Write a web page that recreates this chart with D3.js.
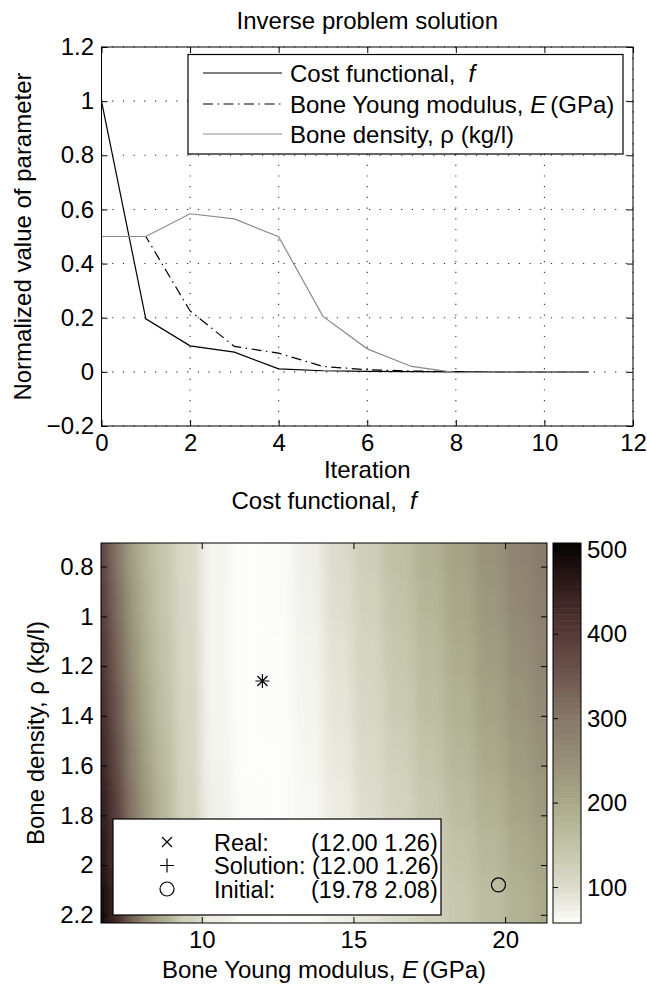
<!DOCTYPE html>
<html>
<head>
<meta charset="utf-8">
<script src="https://cdn.jsdelivr.net/npm/d3@7"></script>
<style>
  body { margin: 0; background: #fff; }
  text { font-family: "Liberation Sans", Arial, sans-serif; }
</style>
</head>
<body>
<script>
// ---- top chart data (iterations of the inverse problem) ----
var iterations = [0, 1, 2, 3, 4, 5, 6, 7, 8, 9, 10, 11];
var costF    = [1, 0.196, 0.096, 0.073, 0.011, 0.004, 0.002, 0.001, 0, 0, 0, 0];
var youngE   = [0.5, 0.5, 0.225, 0.094, 0.069, 0.02, 0.008, 0.003, 0.001, 0, 0, 0];
var density  = [0.5, 0.5, 0.584, 0.565, 0.499, 0.205, 0.085, 0.02, -0.003, 0, 0, 0];
var topXTicks = [0, 2, 4, 6, 8, 10, 12];
var topYTicks = [-0.2, 0, 0.2, 0.4, 0.6, 0.8, 1, 1.2];

// ---- bottom chart data (cost functional map) ----
var gridE   = [6.75, 7.25, 7.75, 8.25, 8.75, 9.5, 10.5, 11.5, 12.5, 13.5, 14.5, 15.5, 16.5, 17.5, 18.5, 19.5, 20.5, 21.25];
var gridRho = [0.75, 0.95, 1.15, 1.35, 1.55, 1.75, 1.95, 2.15];
var costGrid = [
  [385, 300, 215, 170, 140, 105, 68, 58, 60, 74, 100, 128, 156, 184, 212, 245, 275, 295],
  [398, 315, 230, 177, 143, 106, 67, 58, 60, 72, 97, 123, 150, 177, 205, 236, 266, 286],
  [412, 330, 245, 185, 148, 108, 67, 58, 59, 70, 93, 117, 143, 168, 195, 225, 255, 275],
  [426, 347, 260, 195, 154, 110, 68, 58, 59, 68, 89, 111, 135, 159, 185, 213, 242, 262],
  [440, 365, 277, 207, 161, 113, 70, 58, 58, 66, 85, 105, 127, 150, 175, 200, 228, 248],
  [458, 385, 295, 222, 170, 117, 73, 59, 58, 64, 80, 99, 119, 140, 163, 187, 212, 230],
  [475, 405, 313, 236, 179, 121, 76, 60, 58, 62, 76, 93, 111, 130, 151, 173, 195, 212],
  [495, 428, 333, 250, 188, 125, 79, 61, 58, 61, 73, 89, 105, 122, 142, 162, 182, 199]
];
var realPt = [12.00, 1.26];
var solutionPt = [12.00, 1.26];
var initialPt = [19.78, 2.08];
var botXTicks = [10, 15, 20];
var botYTicks = [0.8, 1, 1.2, 1.4, 1.6, 1.8, 2, 2.2];
var cbarTicks = [100, 200, 300, 400, 500];
var cbarRange = [58, 508];
var cmapStops  = [58, 100, 150, 200, 250, 300, 350, 400, 450, 508];
var cmapColors = ["#fdfdfb", "#dcdccd", "#c3c3a9", "#a9a98a", "#979079", "#86786a", "#6f5850", "#573a39", "#362020", "#050303"];

var W = 647, H = 990, FS = 24;

var svg = d3.select("body").append("svg")
    .attr("width", W).attr("height", H)
    .style("font-family", "'Liberation Sans', Arial, sans-serif")
    .style("font-size", FS + "px");

var defs = svg.append("defs");

function tickAxes(g, x, y, box, xt, yt, xlab, ylab) {
    var fmt = d3.format("~g");
    g.append("g").attr("transform", "translate(0," + box.bottom + ")")
        .call(d3.axisBottom(x).tickValues(xt).tickSizeInner(-6).tickSizeOuter(0).tickPadding(8)
            .tickFormat(xlab ? fmt : ""));
    g.append("g").attr("transform", "translate(0," + box.top + ")")
        .call(d3.axisTop(x).tickValues(xt).tickSizeInner(-6).tickSizeOuter(0).tickFormat(""));
    g.append("g").attr("transform", "translate(" + box.left + ",0)")
        .call(d3.axisLeft(y).tickValues(yt).tickSizeInner(-6).tickSizeOuter(0).tickPadding(7.5)
            .tickFormat(ylab ? fmt : ""));
    g.append("g").attr("transform", "translate(" + box.right + ",0)")
        .call(d3.axisRight(y).tickValues(yt).tickSizeInner(-6).tickSizeOuter(0).tickFormat(""));
    g.selectAll(".domain").remove();
    g.selectAll(".tick line").attr("stroke", "#000");
    g.selectAll(".tick text").attr("fill", "#000");
    g.selectAll("g").attr("font-family", null).attr("font-size", null);
    g.append("rect").attr("x", box.left).attr("y", box.top)
        .attr("width", box.right - box.left).attr("height", box.bottom - box.top)
        .attr("fill", "none").attr("stroke", "#000").attr("stroke-width", 1);
}

//Top chart//
var tb = {left: 101.5, right: 633, top: 47, bottom: 426};
var xT = d3.scaleLinear().domain([0, 12]).range([tb.left, tb.right]);
var yT = d3.scaleLinear().domain([-0.2, 1.2]).range([tb.bottom, tb.top]);
var topG = svg.append("g");

// dotted grid
topG.selectAll(".gx").data(topXTicks).enter().append("line")
    .attr("x1", function(d) { return xT(d); }).attr("x2", function(d) { return xT(d); })
    .attr("y1", tb.top).attr("y2", tb.bottom)
    .attr("stroke", "#333").attr("stroke-width", 1.1).attr("stroke-dasharray", "1.2,9.5");
topG.selectAll(".gy").data(topYTicks).enter().append("line")
    .attr("y1", function(d) { return yT(d); }).attr("y2", function(d) { return yT(d); })
    .attr("x1", tb.left).attr("x2", tb.right)
    .attr("stroke", "#333").attr("stroke-width", 1.1).attr("stroke-dasharray", "1.2,9.5");

var series = [
    {name: "cost", values: costF, color: "#000", dash: null},
    {name: "E", values: youngE, color: "#000", dash: "10,4.5,1.5,4.5"},
    {name: "rho", values: density, color: "#8a8a8a", dash: null}
];
var line = d3.line()
    .x(function(d, i) { return xT(iterations[i]); })
    .y(function(d) { return yT(d); });

topG.selectAll(".series").data(series).enter().append("path")
    .attr("d", function(s) { return line(s.values); })
    .attr("fill", "none")
    .attr("stroke", function(s) { return s.color; })
    .attr("stroke-width", 1.2)
    .attr("stroke-dasharray", function(s) { return s.dash; });

tickAxes(topG, xT, yT, tb, topXTicks, topYTicks, true, true);

topG.append("text").attr("x", (tb.left + tb.right) / 2).attr("y", 28.5)
    .attr("text-anchor", "middle").text("Inverse problem solution");
topG.append("text").attr("x", (tb.left + tb.right) / 2).attr("y", 478)
    .attr("text-anchor", "middle").text("Iteration");
topG.append("text").attr("transform", "translate(30.5," + (tb.top + tb.bottom) / 2 + ") rotate(-90)")
    .attr("text-anchor", "middle").text("Normalized value of parameter");

// legend
var lg = topG.append("g");
lg.append("rect").attr("x", 188).attr("y", 54.5).attr("width", 435).attr("height", 99.5)
    .attr("fill", "#fff").attr("stroke", "#000").attr("stroke-width", 1.2);
var legRows = [73, 104, 134];
series.forEach(function(s, i) {
    lg.append("line").attr("x1", 203).attr("x2", 282).attr("y1", legRows[i]).attr("y2", legRows[i])
        .attr("stroke", s.color).attr("stroke-width", 1.2).attr("stroke-dasharray", s.dash);
});
var t0 = lg.append("text").attr("x", 290).attr("y", legRows[0] + 8.5);
t0.append("tspan").text("Cost functional,");
t0.append("tspan").attr("dx", 13).style("font-style", "italic").text("f");
var t1 = lg.append("text").attr("x", 290).attr("y", legRows[1] + 8.5);
t1.append("tspan").text("Bone Young modulus, ");
t1.append("tspan").style("font-style", "italic").text("E");
t1.append("tspan").attr("dx", 4).text("(GPa)");
lg.append("text").attr("x", 290).attr("y", legRows[2] + 8.5).text("Bone density, ρ (kg/l)");

//Bottom chart//
var bb = {left: 101, right: 547, top: 543, bottom: 923};
var xB = d3.scaleLinear().domain([6.68, 21.38]).range([bb.left, bb.right]);
var yB = d3.scaleLinear().domain([0.705, 2.233]).range([bb.top, bb.bottom]);
var color = d3.scaleLinear().domain(cmapStops).range(cmapColors).clamp(true);
var botG = svg.append("g");

var pad = 40;
defs.append("clipPath").attr("id", "mapclip").append("rect")
    .attr("x", bb.left).attr("y", bb.top).attr("width", bb.right - bb.left).attr("height", bb.bottom - bb.top);
defs.append("filter").attr("id", "smooth").attr("filterUnits", "userSpaceOnUse")
    .attr("x", bb.left - pad).attr("y", bb.top - pad)
    .attr("width", bb.right - bb.left + 2 * pad).attr("height", bb.bottom - bb.top + 2 * pad)
    .append("feGaussianBlur").attr("stdDeviation", "6 13");

// cell borders halfway between grid points; outer cells run past the frame (clipped)
function edges(vals, scale, lo, hi) {
    var e = [scale.invert(lo)];
    for (var i = 1; i < vals.length; i++) e.push((vals[i - 1] + vals[i]) / 2);
    e.push(scale.invert(hi));
    return e;
}
var eE = edges(gridE, xB, bb.left - pad, bb.right + pad);
var eR = edges(gridRho, yB, bb.top - pad, bb.bottom + pad);
var cells = [];
costGrid.forEach(function(row, r) {
    row.forEach(function(v, c) {
        cells.push({x0: eE[c], x1: eE[c + 1], y0: eR[r], y1: eR[r + 1], v: v});
    });
});
botG.append("g").attr("clip-path", "url(#mapclip)")
  .append("g").attr("filter", "url(#smooth)")
  .selectAll("rect").data(cells).enter().append("rect")
    .attr("x", function(d) { return xB(d.x0); })
    .attr("y", function(d) { return yB(d.y0); })
    .attr("width", function(d) { return xB(d.x1) - xB(d.x0) + 0.6; })
    .attr("height", function(d) { return yB(d.y1) - yB(d.y0) + 0.6; })
    .attr("fill", function(d) { return color(d.v); });

// markers on the map
function cross(g, cx, cy, s) {
    g.append("path").attr("d", "M" + (cx - s) + "," + (cy - s) + "L" + (cx + s) + "," + (cy + s) +
        "M" + (cx - s) + "," + (cy + s) + "L" + (cx + s) + "," + (cy - s))
        .attr("stroke", "#000").attr("stroke-width", 1.2);
}
function plus(g, cx, cy, s) {
    g.append("path").attr("d", "M" + (cx - s) + "," + cy + "L" + (cx + s) + "," + cy +
        "M" + cx + "," + (cy - s) + "L" + cx + "," + (cy + s))
        .attr("stroke", "#000").attr("stroke-width", 1.2);
}
function ring(g, cx, cy, r) {
    g.append("circle").attr("cx", cx).attr("cy", cy).attr("r", r)
        .attr("fill", "none").attr("stroke", "#000").attr("stroke-width", 1.2);
}
cross(botG, xB(realPt[0]), yB(realPt[1]), 5);
plus(botG, xB(solutionPt[0]), yB(solutionPt[1]), 7);
ring(botG, xB(initialPt[0]), yB(initialPt[1]), 7);

tickAxes(botG, xB, yB, bb, botXTicks, botYTicks, true, true);

var t2 = botG.append("text").attr("x", (bb.left + bb.right) / 2).attr("y", 508.5).attr("text-anchor", "middle");
t2.append("tspan").text("Cost functional,");
t2.append("tspan").attr("dx", 13).style("font-style", "italic").text("f");
var t3 = botG.append("text").attr("x", (bb.left + bb.right) / 2).attr("y", 978).attr("text-anchor", "middle");
t3.append("tspan").text("Bone Young modulus, ");
t3.append("tspan").style("font-style", "italic").text("E");
t3.append("tspan").attr("dx", 4).text("(GPa)");
botG.append("text").attr("transform", "translate(44," + (bb.top + bb.bottom) / 2 + ") rotate(-90)")
    .attr("text-anchor", "middle").text("Bone density, ρ (kg/l)");

// legend of the map
var lg2 = botG.append("g").style("font-size", "23.5px");
lg2.append("rect").attr("x", 113).attr("y", 819).attr("width", 328).attr("height", 96)
    .attr("fill", "#fff").attr("stroke", "#000").attr("stroke-width", 1.2);
var rows2 = [842, 865.5, 889];
cross(lg2, 167, rows2[0], 5);
plus(lg2, 167, rows2[1], 7);
ring(lg2, 167, rows2[2], 7);
var fmt2 = d3.format(".2f");
var legItems = [["Real:", realPt], ["Solution:", solutionPt], ["Initial:", initialPt]];
legItems.forEach(function(it, i) {
    var txt = "(" + fmt2(it[1][0]) + " " + fmt2(it[1][1]) + ")";
    if (it[0] === "Solution:") {
        lg2.append("text").attr("x", 214).attr("y", rows2[i] + 8.5).text(it[0] + " " + txt);
    } else {
        lg2.append("text").attr("x", 214).attr("y", rows2[i] + 8.5).text(it[0]);
        lg2.append("text").attr("x", 311).attr("y", rows2[i] + 8.5).text(txt);
    }
});

// colorbar
var cb = {left: 553, right: 581};
var yC = d3.scaleLinear().domain(cbarRange).range([bb.bottom, bb.top]);
var nBands = 64, bandStep = (cbarRange[1] - cbarRange[0]) / nBands;
var cbg = svg.append("g");
cbg.selectAll("rect").data(d3.range(nBands)).enter().append("rect")
    .attr("x", cb.left).attr("width", cb.right - cb.left)
    .attr("y", function(i) { return yC(cbarRange[0] + (i + 1) * bandStep); })
    .attr("height", function(i) { return yC(cbarRange[0] + i * bandStep) - yC(cbarRange[0] + (i + 1) * bandStep) + 0.5; })
    .attr("fill", function(i) { return color(cbarRange[0] + (i + 0.5) * bandStep); });
var cax = cbg.append("g").attr("transform", "translate(" + cb.right + ",0)")
    .call(d3.axisRight(yC).tickValues(cbarTicks).tickSizeInner(0).tickSizeOuter(0).tickPadding(6));
cax.select(".domain").remove();
cax.attr("font-family", null).attr("font-size", null);
cax.selectAll("text").attr("fill", "#000");
cbg.selectAll(".ctick").data(cbarTicks).enter().append("line")
    .attr("x1", cb.left).attr("x2", cb.left + 5)
    .attr("y1", function(d) { return yC(d); }).attr("y2", function(d) { return yC(d); })
    .attr("stroke", "#000");
cbg.append("rect").attr("x", cb.left).attr("y", bb.top).attr("width", cb.right - cb.left)
    .attr("height", bb.bottom - bb.top).attr("fill", "none").attr("stroke", "#000");
</script>
</body>
</html>
